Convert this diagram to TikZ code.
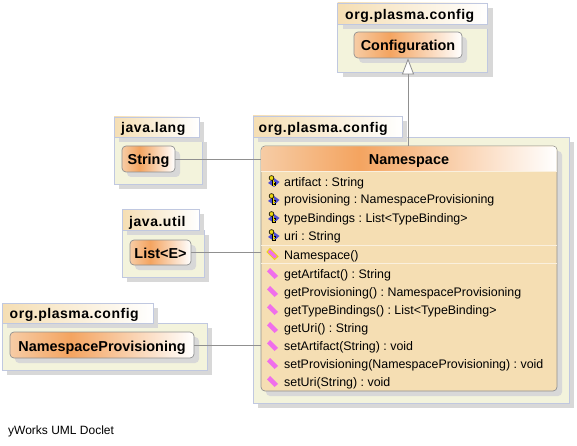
\documentclass[tikz,border=0pt]{standalone}
\usepackage{fontspec}
\setmainfont{Liberation Sans}
\usetikzlibrary{arrows.meta,shadows}

\definecolor{pkgfill}{RGB}{243,243,220}
\definecolor{pkgline}{RGB}{192,200,224}
\definecolor{tabtan}{RGB}{245,222,179}
\definecolor{shadowgray}{RGB}{216,216,216}
\definecolor{classfill}{RGB}{245,222,179}
\definecolor{classline}{RGB}{144,144,144}
\definecolor{linkgray}{RGB}{144,144,144}
\definecolor{sepline}{RGB}{250,240,222}
\definecolor{peachleft}{RGB}{246,204,165}
\definecolor{peachmid}{RGB}{244,164,96}
\definecolor{oppink}{RGB}{240,110,235}
\definecolor{keyblue}{RGB}{80,80,210}
\definecolor{keyyellow}{RGB}{235,215,20}

\pgfdeclarehorizontalshading{headershade}{100bp}{color(0bp)=(peachleft); color(25bp)=(peachleft); color(41.5bp)=(peachmid); color(75bp)=(white); color(100bp)=(white)}

\begin{document}
\begin{tikzpicture}[x=1pt,y=-1pt]

	\tikzset{pkgbody/.style = {shape=rectangle,draw=pkgline,fill=pkgfill,line width=0.7pt,inner sep=0pt,
		general shadow={shadow xshift=5pt,shadow yshift=-5pt,fill=shadowgray}}}
	\tikzset{pkgtab/.style = {shape=rectangle,draw=pkgline,line width=0.7pt,left color=tabtan,right color=white,inner sep=0pt,
		general shadow={shadow xshift=5pt,shadow yshift=-5pt,fill=shadowgray}}}
	\tikzset{pkgname/.style = {anchor=base west,inner sep=0pt,font=\fontsize{14}{16}\selectfont\bfseries\addfontfeature{LetterSpace=3.8}}}
	\tikzset{classbox/.style = {shape=rectangle,draw=classline,line width=0.7pt,rounded corners=4pt,shading=headershade,inner sep=0pt,
		text height=12pt,text depth=0pt,font=\fontsize{14.4}{16}\selectfont\bfseries,
		general shadow={shadow xshift=5pt,shadow yshift=-5pt,fill=shadowgray}}}
	\tikzset{mainbox/.style = {shape=rectangle,draw=classline,line width=0.7pt,rounded corners=4pt,fill=classfill,inner sep=0pt,
		general shadow={shadow xshift=5pt,shadow yshift=-5pt,fill=shadowgray}}}
	\tikzset{member/.style = {anchor=base west,inner sep=0pt,font=\fontsize{12.4}{14}\selectfont\frenchspacing}}
	\tikzset{link/.style = {draw=linkgray,line width=0.8pt}}
	\tikzset{sep/.style = {draw=sepline,line width=1pt}}
	\tikzset{opicon/.pic = {
		\path[pic actions] (-5.5,-2) -- (-2.5,-5.5) -- (5.5,2.5) -- (2,5.5) -- cycle;}}
	\tikzset{keyicon/.pic = {
		\fill[keyblue] (-6,1) -- (0,-4) -- (5.5,0) -- (0,5) -- cycle;
		\draw[black,line width=2pt] (-1,-3) -- (-1,3.5) -- (1.5,3.5) (-1,1) -- (1.5,1);
		\draw[keyyellow,line width=1pt] (-1,-3) -- (-1,3.5) -- (1,3.5) (-1,1) -- (1,1);
		\fill[keyyellow,draw=black,line width=0.6pt] (-2.5,-4) circle (2.4);}}

	% background boxes
	\useasboundingbox (0,0) rectangle (577,446);
	\node[pkgbody,minimum width=150,minimum height=48] (bodyConfig) at (412.5,48) {};
	\node[pkgtab,minimum width=150,minimum height=21] (tabConfig) at (412.5,13.5) {};
	\node[pkgbody,minimum width=316,minimum height=266] (bodyMain) at (411,270) {};
	\node[pkgtab,minimum width=149,minimum height=21] (tabMain) at (327.5,126.5) {};
	\node[pkgbody,minimum width=88,minimum height=47] (bodyLang) at (158,160.5) {};
	\node[pkgtab,minimum width=85,minimum height=20] (tabLang) at (156.5,127) {};
	\node[pkgbody,minimum width=82,minimum height=47] (bodyUtil) at (163,253.5) {};
	\node[pkgtab,minimum width=77,minimum height=21] (tabUtil) at (160.5,219.5) {};
	\node[pkgbody,minimum width=205,minimum height=47] (bodyProv) at (104.5,346.5) {};
	\node[pkgtab,minimum width=151,minimum height=20] (tabProv) at (77.5,313) {};

	% package names
	\node[pkgname] (nameConfig) at (345,20) {org.plasma.config};
	\node[pkgname] (nameMain) at (258.5,133) {org.plasma.config};
	\node[pkgname] (nameLang) at (121,133) {java.lang};
	\node[pkgname] (nameUtil) at (129,226) {java.util};
	\node[pkgname] (nameProv) at (9.5,318.5) {org.plasma.config};

	% classes
	\node[classbox,minimum width=108,minimum height=26] (clsConfig) at (408,45) {Configuration};
	\node[classbox,minimum width=53,minimum height=26] (clsString) at (148.5,159) {String};
	\node[classbox,minimum width=61,minimum height=25] (clsList) at (160.5,252.5) {List<E>};
	\node[classbox,minimum width=184,minimum height=26] (clsProv) at (102,345) {NamespaceProvisioning};
	\node[mainbox,minimum width=296,minimum height=245] (clsMain) at (409,268.5) {};
	\path[shading=headershade] (261.4,171) [rounded corners=3.6pt] -- (261.4,146.4) -- (556.6,146.4) [sharp corners] -- (556.6,171) -- cycle;
	\node[inner sep=0pt,text height=12pt,text depth=0pt,font=\fontsize{14.4}{16}\selectfont\bfseries] (nameMainCls) at (409,158.5) {Namespace};

	\draw[sep] (clsMain.west |- 0,171.5) -- (clsMain.east |- 0,171.5);
	\draw[sep] (clsMain.west |- 0,245) -- (clsMain.east |- 0,245);
	\draw[sep] (clsMain.west |- 0,263.5) -- (clsMain.east |- 0,263.5);

	% members
	\foreach \ypos/\txt in {182/artifact : String,200/provisioning : NamespaceProvisioning,218/typeBindings : List<TypeBinding>,236/uri : String}{
		\pic at (274,\ypos) {keyicon};
		\node[member] at (284,\ypos+4) {\txt};
	}
	\pic[fill=oppink,draw=keyyellow,line width=1pt] at (272.5,254) {opicon};
	\node[member] (ctor) at (284,259) {Namespace()};
	\foreach \ypos/\txt in {274/getArtifact() : String,292/getProvisioning() : NamespaceProvisioning,310/getTypeBindings() : List<TypeBinding>,328/getUri() : String,346/setArtifact(String) : void,364/setProvisioning(NamespaceProvisioning) : void,382/setUri(String) : void}{
		\pic[fill=oppink] at (272.5,\ypos-0.5) {opicon};
		\node[member] at (284,\ypos+4) {\txt};
	}

	% links
	\draw[link] (clsString.east) -- (clsString.east -| clsMain.west);
	\draw[link] (clsList.east) -- (clsList.east -| clsMain.west);
	\draw[link] (clsProv.east) -- (clsProv.east -| clsMain.west);
	\draw[link,-{Triangle[open,fill=white,length=16pt,width=12pt]}] (clsMain.north -| clsConfig.south) -- (clsConfig.south);

	\node[anchor=base west,inner sep=0pt,font=\fontsize{12}{14}\selectfont] (footer) at (8,434) {yWorks UML Doclet};
\end{tikzpicture}
\end{document}
